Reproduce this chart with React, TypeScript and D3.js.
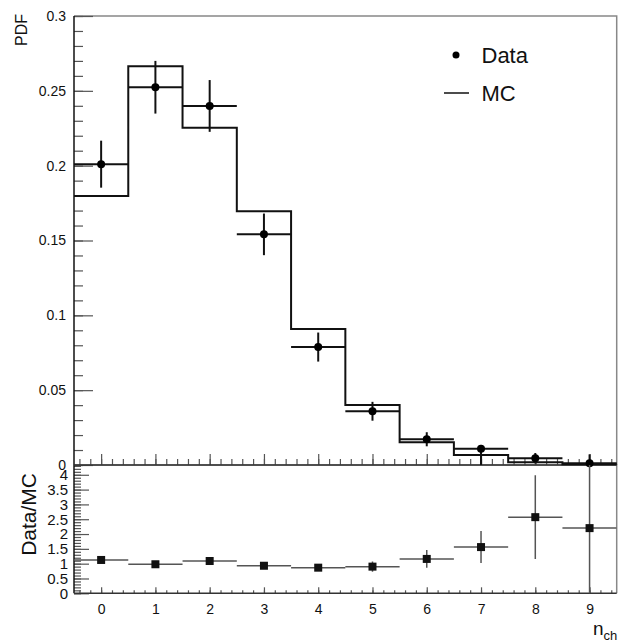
import React, { useEffect, useRef } from 'react';
import * as d3 from 'd3';

// bins of charged multiplicity
const nch = [0, 1, 2, 3, 4, 5, 6, 7, 8, 9];

// measured PDF with (asymmetric) errors
const dataPdf = [0.201, 0.2524, 0.2399, 0.1541, 0.0788, 0.0359, 0.0172, 0.0109, 0.0045, 0.0011];
const dataErrLow = [0.0157, 0.0176, 0.0173, 0.0139, 0.0097, 0.0063, 0.0047, 0.0109, 0.0035, 0.0011];
const dataErrHigh = [0.0157, 0.0176, 0.0173, 0.0139, 0.0097, 0.0063, 0.0047, 0.0025, 0.0035, 0.006];

// MC prediction (histogram)
const mcPdf = [0.1797, 0.2664, 0.2254, 0.1695, 0.0909, 0.0401, 0.0152, 0.0067, 0.0018, 0.0005];

// Data/MC ratio
const ratio = [1.125, 0.98, 1.09, 0.93, 0.865, 0.9, 1.16, 1.56, 2.57, 2.2];
const ratioErr = [0.08, 0.07, 0.08, 0.08, 0.1, 0.17, 0.3, 0.54, 1.41, 2.4];

// axis ticks
const pdfTicks = [0, 0.05, 0.1, 0.15, 0.2, 0.25, 0.3];
const pdfMinorTicks = d3.range(0, 31).map((i) => i / 100);
const ratioTicks = [0, 0.5, 1, 1.5, 2, 2.5, 3, 3.5, 4];
const ratioMinorTicks = d3.range(0, 44).map((i) => i / 10);
const xTicks = nch;
const xMinorTicks = d3.range(-2, 48).map((i) => i / 5);

const FONT = 'Arial, "Liberation Sans", sans-serif';

export default function App() {
	const node = useRef<SVGSVGElement | null>(null);

	useEffect(() => {
		const svg = d3.select(node.current);
		svg.selectAll('*').remove();

		const left = 74;
		const right = 616.7;
		const top = 16;
		const split = 465;
		const bottom = 593.3;

		const x = d3.scaleLinear().domain([-0.5, 9.5]).range([left, right]);
		const yTop = d3.scaleLinear().domain([0, 0.3]).range([split, top]);
		const yBot = d3.scaleLinear().domain([0, 4.33]).range([bottom, split]);

		const tickColor = '#555';
		const frameColor = '#888';

		// clip for the ratio pad
		svg.append('defs').append('clipPath')
			.attr('id', 'ratio-clip')
			.append('rect')
			.attr('x', left)
			.attr('y', split)
			.attr('width', right - left)
			.attr('height', bottom - split);

		// frames
		const frame = (y0: number, y1: number) => {
			svg.append('path')
				.attr('d', `M${left},${y0}H${right}V${y1}`)
				.attr('fill', 'none')
				.attr('stroke', frameColor)
				.attr('stroke-width', 1.5);
		};
		frame(top, split);
		frame(split, bottom);

		// ---- top pad axes ----
		const yAxisTop = d3.axisLeft(yTop)
			.tickValues(pdfTicks)
			.tickSize(-19)
			.tickPadding(8)
			.tickFormat((d) => String(d));
		const gyTop = svg.append('g')
			.attr('transform', `translate(${left},0)`)
			.call(yAxisTop);
		svg.append('g')
			.attr('transform', `translate(${left},0)`)
			.call(d3.axisLeft(yTop).tickValues(pdfMinorTicks).tickSize(-9).tickFormat(() => ''));

		const gxTop = svg.append('g')
			.attr('transform', `translate(0,${split})`);
		gxTop.call(d3.axisBottom(x).tickValues(xMinorTicks).tickSize(-6).tickFormat(() => ''));
		gxTop.append('g').call(d3.axisBottom(x).tickValues(xTicks).tickSize(-11).tickFormat(() => ''));

		// ---- bottom pad axes ----
		const gyBot = svg.append('g')
			.attr('transform', `translate(${left},0)`)
			.call(d3.axisLeft(yBot)
				.tickValues(ratioTicks)
				.tickSize(-15)
				.tickPadding(6)
				.tickFormat((d) => String(d)));
		svg.append('g')
			.attr('transform', `translate(${left},0)`)
			.call(d3.axisLeft(yBot).tickValues(ratioMinorTicks).tickSize(-7).tickFormat(() => ''));

		const gxBot = svg.append('g')
			.attr('transform', `translate(0,${bottom})`);
		gxBot.call(d3.axisBottom(x).tickValues(xMinorTicks).tickSize(-3).tickFormat(() => ''));
		gxBot.append('g').call(d3.axisBottom(x)
			.tickValues(xTicks)
			.tickSize(-6)
			.tickPadding(8)
			.tickFormat((d) => String(d)));

		// axis styling
		svg.selectAll('.domain').remove();
		svg.selectAll('.tick line')
			.attr('stroke', tickColor)
			.attr('stroke-width', 1.2);
		svg.selectAll('.tick text')
			.attr('fill', '#111')
			.style('font-family', FONT)
			.style('font-size', '14px');
		gyBot.selectAll('.tick text').style('font-size', '15px');
		gxBot.selectAll('.tick text').attr('dy', '0.9em');
		gyTop.raise();

		// axis lines
		svg.append('line')
			.attr('x1', left).attr('x2', left)
			.attr('y1', top).attr('y2', bottom)
			.attr('stroke', '#111')
			.attr('stroke-width', 1.5);
		svg.append('line')
			.attr('x1', left).attr('x2', right)
			.attr('y1', split).attr('y2', split)
			.attr('stroke', '#333')
			.attr('stroke-width', 1.5);
		svg.append('line')
			.attr('x1', left).attr('x2', right)
			.attr('y1', bottom).attr('y2', bottom)
			.attr('stroke', '#333')
			.attr('stroke-width', 1.5);

		// ---- MC histogram ----
		const stepPts: [number, number][] = nch.map((n, i) => [n - 0.5, mcPdf[i]]);
		stepPts.push([nch[nch.length - 1] + 0.5, mcPdf[mcPdf.length - 1]]);
		const step = d3.line<[number, number]>()
			.x((d) => x(d[0]))
			.y((d) => yTop(d[1]))
			.curve(d3.curveStepAfter);
		svg.append('path')
			.attr('d', step(stepPts))
			.attr('fill', 'none')
			.attr('stroke', '#111')
			.attr('stroke-width', 2);

		// ---- data points ----
		const data = svg.append('g').attr('class', 'data');
		nch.forEach((n, i) => {
			const cy = yTop(dataPdf[i]);
			data.append('line')
				.attr('x1', x(n - 0.5)).attr('x2', x(n + 0.5))
				.attr('y1', cy).attr('y2', cy)
				.attr('stroke', '#111').attr('stroke-width', 2);
			data.append('line')
				.attr('x1', x(n)).attr('x2', x(n))
				.attr('y1', yTop(Math.max(0, dataPdf[i] - dataErrLow[i])))
				.attr('y2', yTop(dataPdf[i] + dataErrHigh[i]))
				.attr('stroke', '#111').attr('stroke-width', 2);
			data.append('circle')
				.attr('cx', x(n)).attr('cy', cy)
				.attr('r', 4)
				.attr('fill', '#000');
		});

		// ---- ratio points ----
		const ratioG = svg.append('g').attr('clip-path', 'url(#ratio-clip)');
		nch.forEach((n, i) => {
			const cy = yBot(ratio[i]);
			ratioG.append('line')
				.attr('x1', x(n - 0.5)).attr('x2', x(n + 0.5))
				.attr('y1', cy).attr('y2', cy)
				.attr('stroke', '#555').attr('stroke-width', 1.5);
			ratioG.append('line')
				.attr('x1', x(n)).attr('x2', x(n))
				.attr('y1', yBot(ratio[i] - ratioErr[i]))
				.attr('y2', yBot(ratio[i] + ratioErr[i]))
				.attr('stroke', '#555').attr('stroke-width', 1.5);
			ratioG.append('rect')
				.attr('x', x(n) - 4).attr('y', cy - 4)
				.attr('width', 8).attr('height', 8)
				.attr('fill', '#111');
		});

		// ---- legend ----
		const legend = svg.append('g')
			.style('font-family', FONT)
			.style('font-size', '22px')
			.attr('fill', '#111');
		legend.append('circle')
			.attr('cx', 456).attr('cy', 55)
			.attr('r', 3.5)
			.attr('fill', '#000');
		legend.append('text').attr('x', 481.5).attr('y', 63).text('Data');
		legend.append('line')
			.attr('x1', 444).attr('x2', 469)
			.attr('y1', 93).attr('y2', 93)
			.attr('stroke', '#111').attr('stroke-width', 1.5);
		legend.append('text').attr('x', 481.5).attr('y', 101).text('MC');

		// ---- axis titles ----
		svg.append('text')
			.attr('transform', `translate(27,14) rotate(-90)`)
			.attr('text-anchor', 'end')
			.style('font-family', FONT)
			.style('font-size', '16px')
			.attr('fill', '#111')
			.text('PDF');
		svg.append('text')
			.attr('transform', `translate(36,473) rotate(-90)`)
			.attr('text-anchor', 'end')
			.style('font-family', FONT)
			.style('font-size', '21px')
			.attr('fill', '#111')
			.text('Data/MC');
		const xt = svg.append('text')
			.attr('x', 593)
			.attr('y', 635)
			.style('font-family', FONT)
			.attr('fill', '#111');
		xt.append('tspan').style('font-size', '19px').text('n');
		xt.append('tspan').style('font-size', '13px').attr('dy', 5).text('ch');
	}, []);

	return (
		<svg
			ref={node}
			width={629}
			height={640}
			style={{ position: 'absolute', left: 0, top: 0, background: '#fff' }}
		/>
	);
}
